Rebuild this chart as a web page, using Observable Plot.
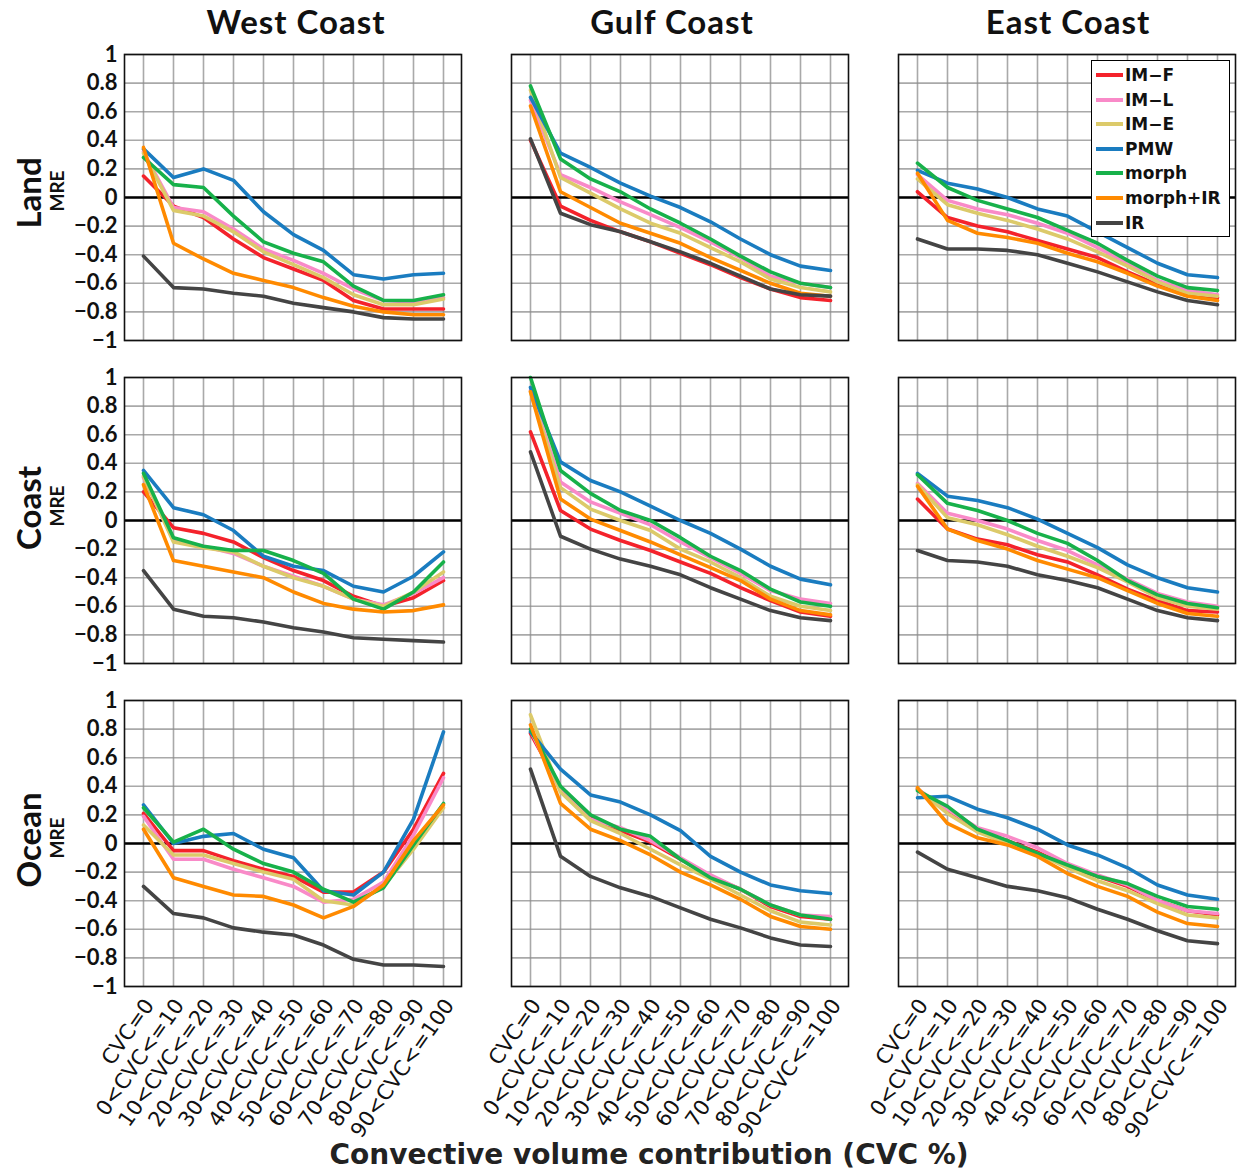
<!DOCTYPE html>
<html>
<head>
<meta charset="utf-8">
<script src="https://cdn.jsdelivr.net/npm/d3@7"></script>
<script src="https://cdn.jsdelivr.net/npm/@observablehq/plot@0.6"></script>
<style>
  body { margin: 0; background: #fff; }
  #wrap { position: relative; width: 1255px; height: 1173px; overflow: hidden; background: #fff; }
  #wrap svg { position: absolute; left: 0; top: 0; }
  .coltitle { position: absolute; top: 1px; font: bold 33px Lato, sans-serif; letter-spacing: 1px; color: #111; transform: translateX(-50%); white-space: nowrap; }
  .rowlab { position: absolute; font: bold 33px Lato, sans-serif; color: #111; transform: translate(-50%, -50%) rotate(-90deg); white-space: nowrap; }
  .mre { position: absolute; font: bold 19px Lato, sans-serif; color: #111; transform: translate(-50%, -50%) rotate(-90deg); white-space: nowrap; }
  #xtitle { position: absolute; left: 649px; top: 1138px; transform: translateX(-50%); font: bold 28px "DejaVu Sans", sans-serif; color: #222; white-space: nowrap; }
  #legend { position: absolute; left: 1091px; top: 60px; width: 139px; height: 177px; border: 1.5px solid #000; background: #fff; box-sizing: border-box; }
  .lrow { position: absolute; left: 0; height: 24px; width: 100%; }
  .lsw { position: absolute; left: 4px; top: 10px; width: 27px; height: 4px; }
  .ltx { position: absolute; left: 33px; top: 0; font: bold 17px "DejaVu Sans", sans-serif; color: #111; line-height: 24px; white-space: nowrap; }
</style>
</head>
<body>
<div id="wrap"></div>
<script>
const categories = ["CVC=0", "0<CVC<=10", "10<CVC<=20", "20<CVC<=30", "30<CVC<=40", "40<CVC<=50",
  "50<CVC<=60", "60<CVC<=70", "70<CVC<=80", "80<CVC<=90", "90<CVC<=100"];
const seriesNames = ["IM-F", "IM-L", "IM-E", "PMW", "morph", "morph+IR", "IR"];
const seriesColors = ["#f4222b", "#f98ac8", "#dcca6a", "#1a7cc0", "#17b14a", "#ff8a00", "#444444"];
const regions = ["West Coast", "Gulf Coast", "East Coast"];
const surfaces = ["Land", "Coast", "Ocean"];
const yTicks = [-1, -0.8, -0.6, -0.4, -0.2, 0, 0.2, 0.4, 0.6, 0.8, 1];

// rows: IM-F, IM-L, IM-E, PMW, morph, morph+IR, IR
const westLand = [
  [0.15, -0.06, -0.14, -0.29, -0.42, -0.50, -0.58, -0.72, -0.78, -0.78, -0.78],
  [0.32, -0.07, -0.10, -0.22, -0.36, -0.44, -0.53, -0.64, -0.72, -0.73, -0.70],
  [0.31, -0.09, -0.13, -0.24, -0.38, -0.47, -0.56, -0.68, -0.75, -0.75, -0.71],
  [0.34, 0.14, 0.20, 0.12, -0.10, -0.26, -0.37, -0.54, -0.57, -0.54, -0.53],
  [0.28, 0.09, 0.07, -0.13, -0.31, -0.39, -0.45, -0.62, -0.72, -0.72, -0.68],
  [0.35, -0.32, -0.43, -0.53, -0.58, -0.63, -0.70, -0.76, -0.80, -0.82, -0.82],
  [-0.41, -0.63, -0.64, -0.67, -0.69, -0.74, -0.77, -0.80, -0.84, -0.85, -0.85]
];
const gulfLand = [
  [0.40, -0.06, -0.16, -0.24, -0.31, -0.39, -0.47, -0.56, -0.64, -0.70, -0.72],
  [0.68, 0.16, 0.07, -0.03, -0.12, -0.21, -0.31, -0.42, -0.55, -0.60, -0.63],
  [0.75, 0.14, 0.03, -0.08, -0.18, -0.25, -0.35, -0.45, -0.57, -0.63, -0.66],
  [0.70, 0.31, 0.21, 0.10, 0.01, -0.07, -0.17, -0.29, -0.40, -0.48, -0.51],
  [0.78, 0.27, 0.13, 0.04, -0.08, -0.18, -0.29, -0.41, -0.52, -0.60, -0.63],
  [0.64, 0.04, -0.07, -0.18, -0.25, -0.32, -0.42, -0.51, -0.60, -0.67, -0.69],
  [0.41, -0.11, -0.19, -0.24, -0.31, -0.38, -0.46, -0.55, -0.64, -0.68, -0.69]
];
const eastLand = [
  [0.04, -0.14, -0.20, -0.24, -0.30, -0.36, -0.42, -0.52, -0.61, -0.68, -0.70],
  [0.16, -0.02, -0.08, -0.12, -0.18, -0.25, -0.35, -0.46, -0.58, -0.65, -0.68],
  [0.13, -0.05, -0.11, -0.16, -0.22, -0.29, -0.38, -0.48, -0.59, -0.67, -0.69],
  [0.19, 0.10, 0.06, 0.00, -0.08, -0.13, -0.24, -0.35, -0.46, -0.54, -0.56],
  [0.24, 0.07, -0.02, -0.08, -0.14, -0.23, -0.32, -0.44, -0.55, -0.63, -0.65],
  [0.17, -0.16, -0.25, -0.28, -0.32, -0.39, -0.45, -0.53, -0.62, -0.69, -0.72],
  [-0.29, -0.36, -0.36, -0.37, -0.40, -0.46, -0.52, -0.59, -0.66, -0.72, -0.75]
];
const westCoast = [
  [0.20, -0.05, -0.09, -0.15, -0.26, -0.35, -0.42, -0.53, -0.60, -0.54, -0.42],
  [0.30, -0.14, -0.18, -0.23, -0.32, -0.39, -0.46, -0.55, -0.59, -0.51, -0.40],
  [0.31, -0.15, -0.19, -0.22, -0.32, -0.40, -0.46, -0.55, -0.60, -0.50, -0.36],
  [0.35, 0.09, 0.04, -0.07, -0.25, -0.32, -0.35, -0.46, -0.50, -0.39, -0.22],
  [0.33, -0.12, -0.18, -0.21, -0.21, -0.28, -0.37, -0.55, -0.62, -0.50, -0.29],
  [0.25, -0.28, -0.32, -0.36, -0.40, -0.50, -0.58, -0.62, -0.64, -0.63, -0.59],
  [-0.35, -0.62, -0.67, -0.68, -0.71, -0.75, -0.78, -0.82, -0.83, -0.84, -0.85]
];
const gulfCoast = [
  [0.62, 0.07, -0.06, -0.14, -0.21, -0.29, -0.37, -0.47, -0.56, -0.64, -0.67],
  [0.91, 0.27, 0.13, 0.05, -0.03, -0.15, -0.26, -0.37, -0.49, -0.55, -0.58],
  [0.90, 0.23, 0.08, 0.00, -0.07, -0.20, -0.29, -0.40, -0.53, -0.60, -0.63],
  [0.93, 0.41, 0.28, 0.20, 0.10, 0.00, -0.09, -0.20, -0.32, -0.41, -0.45],
  [1.00, 0.35, 0.19, 0.07, 0.00, -0.12, -0.25, -0.35, -0.48, -0.57, -0.60],
  [0.90, 0.15, 0.01, -0.07, -0.15, -0.24, -0.33, -0.42, -0.55, -0.63, -0.66],
  [0.48, -0.11, -0.20, -0.27, -0.32, -0.38, -0.47, -0.55, -0.63, -0.68, -0.70]
];
const eastCoast = [
  [0.15, -0.06, -0.13, -0.17, -0.24, -0.29, -0.38, -0.48, -0.56, -0.63, -0.64],
  [0.26, 0.05, 0.00, -0.06, -0.14, -0.21, -0.31, -0.41, -0.51, -0.57, -0.60],
  [0.25, 0.02, -0.03, -0.10, -0.18, -0.25, -0.33, -0.43, -0.54, -0.60, -0.62],
  [0.33, 0.17, 0.14, 0.09, 0.01, -0.09, -0.19, -0.31, -0.40, -0.47, -0.50],
  [0.32, 0.12, 0.07, 0.00, -0.09, -0.16, -0.28, -0.42, -0.52, -0.58, -0.61],
  [0.24, -0.06, -0.14, -0.20, -0.28, -0.34, -0.40, -0.49, -0.58, -0.65, -0.67],
  [-0.21, -0.28, -0.29, -0.32, -0.38, -0.42, -0.47, -0.55, -0.63, -0.68, -0.70]
];
const westOcean = [
  [0.21, -0.05, -0.05, -0.12, -0.18, -0.23, -0.34, -0.34, -0.20, 0.10, 0.49],
  [0.19, -0.11, -0.11, -0.18, -0.24, -0.30, -0.41, -0.39, -0.27, 0.06, 0.46],
  [0.13, -0.08, -0.08, -0.14, -0.20, -0.25, -0.40, -0.43, -0.30, -0.04, 0.25],
  [0.27, 0.00, 0.05, 0.07, -0.04, -0.10, -0.33, -0.36, -0.20, 0.17, 0.78],
  [0.25, 0.01, 0.10, -0.04, -0.14, -0.20, -0.32, -0.41, -0.31, -0.01, 0.28],
  [0.10, -0.24, -0.30, -0.36, -0.37, -0.43, -0.52, -0.44, -0.29, 0.02, 0.27],
  [-0.30, -0.49, -0.52, -0.59, -0.62, -0.64, -0.71, -0.81, -0.85, -0.85, -0.86]
];
const gulfOcean = [
  [0.77, 0.39, 0.18, 0.09, 0.01, -0.11, -0.23, -0.32, -0.44, -0.51, -0.53],
  [0.79, 0.37, 0.17, 0.11, 0.02, -0.10, -0.22, -0.32, -0.43, -0.50, -0.51],
  [0.90, 0.36, 0.16, 0.07, -0.04, -0.15, -0.25, -0.36, -0.47, -0.55, -0.57],
  [0.78, 0.52, 0.34, 0.29, 0.20, 0.09, -0.09, -0.20, -0.29, -0.33, -0.35],
  [0.80, 0.40, 0.20, 0.10, 0.05, -0.11, -0.24, -0.32, -0.43, -0.50, -0.53],
  [0.83, 0.28, 0.10, 0.02, -0.08, -0.20, -0.29, -0.39, -0.51, -0.58, -0.60],
  [0.52, -0.09, -0.23, -0.31, -0.37, -0.45, -0.53, -0.59, -0.66, -0.71, -0.72]
];
const eastOcean = [
  [0.38, 0.23, 0.09, 0.02, -0.06, -0.16, -0.23, -0.30, -0.40, -0.47, -0.50],
  [0.38, 0.24, 0.11, 0.05, -0.03, -0.14, -0.22, -0.29, -0.40, -0.47, -0.49],
  [0.38, 0.21, 0.08, 0.00, -0.07, -0.17, -0.26, -0.33, -0.42, -0.50, -0.52],
  [0.32, 0.33, 0.24, 0.18, 0.10, -0.01, -0.08, -0.17, -0.29, -0.36, -0.39],
  [0.37, 0.26, 0.10, 0.02, -0.07, -0.15, -0.23, -0.28, -0.37, -0.44, -0.46],
  [0.39, 0.14, 0.04, -0.01, -0.09, -0.21, -0.30, -0.37, -0.48, -0.56, -0.58],
  [-0.06, -0.18, -0.24, -0.30, -0.33, -0.38, -0.46, -0.53, -0.61, -0.68, -0.70]
];

const panels = [
  ["West Coast", "Land", westLand], ["Gulf Coast", "Land", gulfLand], ["East Coast", "Land", eastLand],
  ["West Coast", "Coast", westCoast], ["Gulf Coast", "Coast", gulfCoast], ["East Coast", "Coast", eastCoast],
  ["West Coast", "Ocean", westOcean], ["Gulf Coast", "Ocean", gulfOcean], ["East Coast", "Ocean", eastOcean]
];
const rows = [];
for (const [region, surface, table] of panels) {
  table.forEach((vals, si) => {
    vals.forEach((v, ci) => rows.push({region, surface, series: seriesNames[si], cat: categories[ci], value: v}));
  });
}

const fmt = d => d === 0 ? "0" : (d < 0 ? "\u2212" : "") + String(+Math.abs(d).toFixed(1));

const chart = Plot.plot({
  width: 1255,
  height: 1128,
  marginLeft: 123,
  marginRight: 20,
  marginTop: 53,
  marginBottom: 140,
  style: {background: "transparent", overflow: "visible", fontFamily: "Lato, sans-serif", color: "#111"},
  fx: {domain: regions, axis: null, paddingInner: 0.13, paddingOuter: 0},
  fy: {domain: surfaces, axis: null, paddingInner: 0.114, paddingOuter: 0},
  x: {type: "point", domain: categories, padding: 0.5},
  y: {domain: [-1, 1]},
  color: {domain: seriesNames, range: seriesColors},
  marks: [
    Plot.gridX({stroke: "#8c8c8c", strokeOpacity: 0.75, strokeWidth: 1.6}),
    Plot.gridY(yTicks, {stroke: "#8c8c8c", strokeOpacity: 0.75, strokeWidth: 1.6}),
    Plot.ruleY([0], {stroke: "#000", strokeWidth: 2.5}),
    Plot.line(rows, {x: "cat", y: "value", z: "series", stroke: "series", fx: "region", fy: "surface", strokeWidth: 3.6, strokeLinejoin: "round"}),
    Plot.frame({stroke: "#111", strokeWidth: 1.6}),
    Plot.axisY(yTicks, {tickSize: 0, tickPadding: 7, fontSize: 22, fontWeight: "bold", tickFormat: fmt, label: null}),
    Plot.axisX({tickRotate: -55, tickSize: 0, tickPadding: 15, dx: 6, fontSize: 21, fontFamily: "DejaVu Sans, sans-serif", label: null})
  ]
});

const wrap = document.getElementById("wrap");
wrap.appendChild(chart);

function addDiv(cls, text, css) {
  const d = document.createElement("div");
  d.className = cls;
  d.textContent = text;
  Object.assign(d.style, css);
  wrap.appendChild(d);
  return d;
}
const titleX = [296, 672, 1068];
regions.forEach((r, i) => addDiv("coltitle", r, {left: titleX[i] + "px"}));
const rowY = [193, 508, 840];
surfaces.forEach((s, i) => {
  addDiv("rowlab", s, {left: "28px", top: rowY[i] + "px"});
  addDiv("mre", "MRE", {left: "56px", top: (rowY[i] - 2) + "px"});
});
addDiv("", "Convective volume contribution (CVC %)", {}).id = "xtitle";

const legend = document.createElement("div");
legend.id = "legend";
seriesNames.forEach((s, i) => {
  const row = document.createElement("div");
  row.className = "lrow";
  row.style.top = (2 + i * 24.6) + "px";
  const sw = document.createElement("div");
  sw.className = "lsw";
  sw.style.background = seriesColors[i];
  const tx = document.createElement("div");
  tx.className = "ltx";
  tx.textContent = s.replace("-", "\u2212");
  row.appendChild(sw);
  row.appendChild(tx);
  legend.appendChild(row);
});
wrap.appendChild(legend);
</script>
</body>
</html>
